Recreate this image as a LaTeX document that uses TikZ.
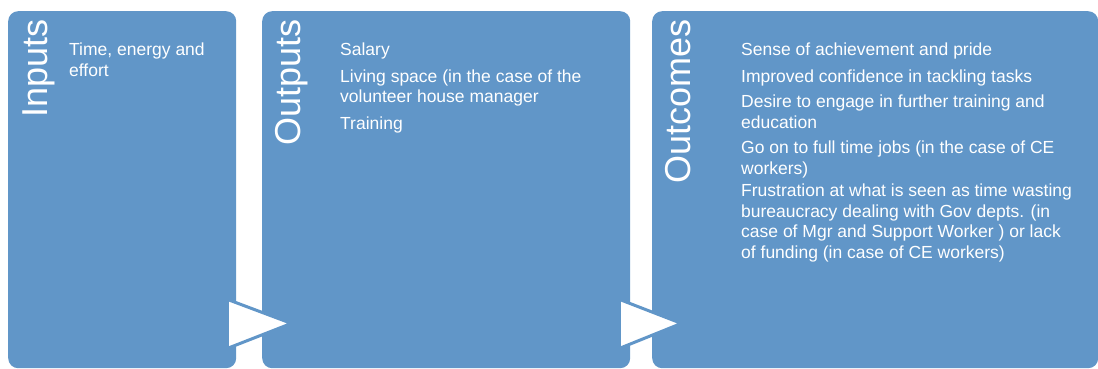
\documentclass[tikz,border=0pt]{standalone}
\usepackage{fontspec}
\setmainfont{Liberation Sans}
\usepackage{tikz}
\usetikzlibrary{calc, positioning}
\definecolor{stageblue}{RGB}{97, 150, 200}

\begin{document}
\begin{tikzpicture}[
  x=1pt, y=-1pt,
  stage/.style={fill=stageblue, rounded corners=10pt, inner sep=0pt, anchor=north west, minimum height=357pt},
  title/.style={text=white, rotate=90, anchor=base east, inner sep=0pt, font=\fontsize{36}{36}\selectfont},
  items/.style={text=white, anchor=north west, inner sep=0pt, align=left, font=\fontsize{17.5}{20.5}\selectfont},
  pointer/.style={fill=white, draw=stageblue, line width=3pt, line join=miter},
]
  \useasboundingbox (0,0) rectangle (1098,369);
  \clip (0,0) rectangle (1098,369);

  \node[stage, minimum width=228pt] (inputs) at (8,11) {};
  \node[stage, minimum width=368pt] (outputs) at (262,11) {};
  \node[stage, minimum width=446pt] (outcomes) at (652,11) {};

  \node[title] (inputsT) at ($(inputs.north west)+(39,8)$) {Inputs};
  \node[title] (outputsT) at ($(outputs.north west)+(38,8)$) {Outputs};
  \node[title] (outcomesT) at ($(outcomes.north west)+(38,8)$) {Outcomes};

  \node[items] (inputsL) at ($(inputs.north west)+(61,32)$) {Time, energy and\\effort};
  \node[items] (outputsL) at ($(outputs.north west)+(78,32)$)
    {Salary\\[6pt]Living space (in the case of the\\volunteer house manager\\[6pt]Training};
  \node[items] (outcomesL) at ($(outcomes.north west)+(89,32)$)
    {Sense of achievement and pride\\[6pt]
     Improved confidence in tackling tasks\\[5pt]
     Desire to engage in further training and\\education\\[5pt]
     Go on to full time jobs (in the case of CE\\workers)\\[2pt]
     Frustration at what is seen as time wasting\\
     bureaucracy dealing with Gov depts. (in\\
     case of Mgr and Support Worker ) or lack\\
     of funding (in case of CE workers)};

  % arrows between the stages
  \filldraw[pointer] ($(inputs.south east)+(-9,-69)$) -- ($(inputs.south east)+(-9,-20)$)
    -- ($(inputs.south east)+(55,-45)$) -- cycle;
  \filldraw[pointer] ($(outputs.south east)+(-11,-69)$) -- ($(outputs.south east)+(-11,-20)$)
    -- ($(outputs.south east)+(51,-45)$) -- cycle;
\end{tikzpicture}
\end{document}
